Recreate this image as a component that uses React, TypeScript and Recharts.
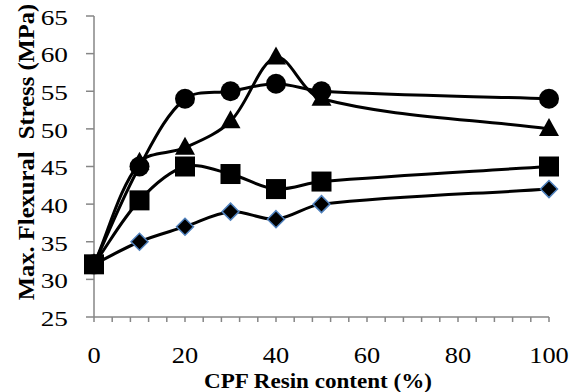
import React from 'react'
import { LineChart, Line, XAxis, YAxis } from 'recharts'

// CPF resin content (%)
const resinContent = [0, 10, 20, 30, 40, 50, 100]
const circleSeries = [32, 45, 54, 55, 56, 55, 54]
const triangleSeries = [32, 45.5, 47.5, 51, 59.5, 54, 50]
const squareSeries = [32, 40.5, 45, 44, 42, 43, 45]
const diamondSeries = [32, 35, 37, 39, 38, 40, 42]

const xTicks = [0, 4, 8, 12, 16, 20, 24, 28, 32, 36, 40, 44, 48, 52, 56, 60, 64, 68, 72, 76, 80, 84, 88, 92, 96, 100]
const xLabels = [0, 20, 40, 60, 80, 100]
const yTicks = [25, 30, 35, 40, 45, 50, 55, 60, 65]

const data = resinContent.map((x, i) => ({
  x,
  circle: circleSeries[i],
  triangle: triangleSeries[i],
  square: squareSeries[i],
  diamond: diamondSeries[i],
}))

const FONT = '"Liberation Serif", "Times New Roman", serif'
const AXIS = '#868686'

// excel-like smoothed line, tangents weighted by segment length
const smoothCurve = (context: any) => {
  let pts: number[][] = []
  const dist = (a: number[], b: number[]) => Math.hypot(b[0] - a[0], b[1] - a[1])
  return {
    areaStart() {},
    areaEnd() {},
    lineStart() { pts = [] },
    point(x: number, y: number) { pts.push([+x, +y]) },
    lineEnd() {
      const n = pts.length
      if (!n) return
      context.moveTo(pts[0][0], pts[0][1])
      for (let i = 0; i < n - 1; i++) {
        const p0 = pts[Math.max(i - 1, 0)]
        const p1 = pts[i]
        const p2 = pts[i + 1]
        const p3 = pts[Math.min(i + 2, n - 1)]
        const d01 = dist(p0, p1), d12 = dist(p1, p2), d23 = dist(p2, p3)
        const f1 = d12 / (d01 + d12 || 1) / 3
        const f2 = d12 / (d12 + d23 || 1) / 3
        context.bezierCurveTo(
          p1[0] + (p2[0] - p0[0]) * f1, p1[1] + (p2[1] - p0[1]) * f1,
          p2[0] - (p3[0] - p1[0]) * f2, p2[1] - (p3[1] - p1[1]) * f2,
          p2[0], p2[1]
        )
      }
    },
  }
}

const CircleDot = (p: any) => <circle key={p.index} cx={p.cx} cy={p.cy} r={10} fill="#000" />
const TriangleDot = (p: any) => (
  <path key={p.index} d={`M${p.cx},${p.cy - 11}L${p.cx + 10},${p.cy + 7}L${p.cx - 10},${p.cy + 7}Z`} fill="#000" />
)
const SquareDot = (p: any) => <rect key={p.index} x={p.cx - 10} y={p.cy - 10} width={20} height={20} fill="#000" />
const DiamondDot = (p: any) => (
  <path key={p.index} d={`M${p.cx},${p.cy - 8.5}L${p.cx + 8.5},${p.cy}L${p.cx},${p.cy + 8.5}L${p.cx - 8.5},${p.cy}Z`} fill="#000" stroke="#4f81bd" strokeWidth={1.5} />
)

const XTick = ({ x, payload }: any) =>
  xLabels.includes(payload.value) ? (
    <text transform={`translate(${x} 363) scale(1.1 1)`} textAnchor="middle" fontFamily={FONT} fontSize={24} fill="#000">{payload.value}</text>
  ) : null

const YTick = ({ y, payload }: any) => (
  <text transform={`translate(68 ${y + 1.5}) scale(1.3 1)`} dy="0.35em" textAnchor="end" fontFamily={FONT} fontSize={21} fill="#000">{payload.value}</text>
)

export default function App() {
  return (
    <div style={{ position: 'absolute', left: 0, top: 0, width: 569, height: 392, background: '#fff' }}>
      <LineChart width={569} height={392} data={data} margin={{ top: 16, right: 20, bottom: 0, left: 0 }}>
        <XAxis dataKey="x" type="number" domain={[0, 100]} ticks={xTicks} interval={0} height={75}
          axisLine={{ stroke: AXIS, strokeWidth: 1.5 }} tickLine={{ stroke: AXIS, strokeWidth: 1.5 }} tickSize={5} tick={<XTick />} />
        <YAxis type="number" domain={[25, 65]} ticks={yTicks} interval={0} width={94}
          axisLine={{ stroke: AXIS, strokeWidth: 1.5 }} tickLine={{ stroke: AXIS, strokeWidth: 1.5 }} tickSize={8} tick={<YTick />} />
        <Line dataKey="diamond" type={smoothCurve as any} stroke="#000" strokeWidth={3} dot={DiamondDot} isAnimationActive={false} />
        <Line dataKey="triangle" type={smoothCurve as any} stroke="#000" strokeWidth={3} dot={TriangleDot} isAnimationActive={false} />
        <Line dataKey="circle" type={smoothCurve as any} stroke="#000" strokeWidth={3} dot={CircleDot} isAnimationActive={false} />
        <Line dataKey="square" type={smoothCurve as any} stroke="#000" strokeWidth={3} dot={SquareDot} isAnimationActive={false} />
        <text transform="translate(318 387.5) scale(1.1 1)" textAnchor="middle" fontFamily={FONT} fontSize={21} fontWeight="bold" fill="#000">CPF Resin content (%)</text>
        <text transform="translate(34 152) rotate(-90) scale(1.07 1)" textAnchor="middle" fontFamily={FONT} fontSize={23} fontWeight="bold" fill="#000" style={{ whiteSpace: 'pre' }}>{'Max. Flexural  Stress (MPa)'}</text>
      </LineChart>
    </div>
  )
}
